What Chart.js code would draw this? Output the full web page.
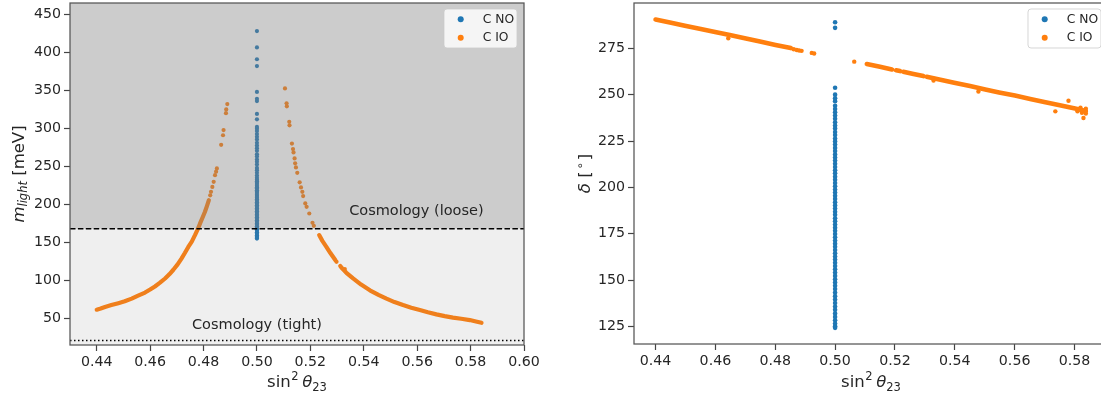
<!DOCTYPE html>
<html><head><meta charset="utf-8">
<script src="https://cdn.jsdelivr.net/npm/chart.js@4.4.1/dist/chart.umd.min.js"></script>
<style>
html,body{margin:0;padding:0;overflow:hidden;background:#fff;width:1101px;height:396px}
#wrapL{position:absolute;left:0;top:-8px;width:550px;height:404px}
#wrapR{position:absolute;left:550px;top:-8px;width:570px;height:404px}
</style></head><body>
<div id="wrapL"><canvas id="cL" width="550" height="404"></canvas></div>
<div id="wrapR"><canvas id="cR" width="570" height="404"></canvas></div>
<script>
// ---------- data ----------
const LEFT_X_TICKS = [0.44, 0.46, 0.48, 0.50, 0.52, 0.54, 0.56, 0.58, 0.60];
const LEFT_Y_TICKS = [50, 100, 150, 200, 250, 300, 350, 400, 450];
const RIGHT_X_TICKS = [0.44, 0.46, 0.48, 0.50, 0.52, 0.54, 0.56, 0.58];
const RIGHT_Y_TICKS = [125, 150, 175, 200, 225, 250, 275];
const SERIES_NAMES = ['C NO', 'C IO'];
const LOOSE_BOUND = 168;   // meV
const TIGHT_BOUND = 21;    // meV
const NO_SIN2 = 0.5;

// Left panel: C NO, m_light at sin^2 = 0.5
const noMlight = [428, 406.5, 391, 382, 348, 339, 336, 319, 312, 302, 299.5, 296.5, 292.5, 289, 285.5, 281,
  277.5, 274, 270.5, 266, 263, 259, 256, 252.5, 248, 245, 241.5, 238, 235, 232.5, 230.5, 228.4, 226.8,
  224.5, 222.7, 220.9, 218.6, 216.8, 214.9, 212.6, 210.9, 208.8, 206.9, 204.7, 202.8, 201, 198.8, 196.9,
  195, 192.8, 190.9, 189, 186.8, 185, 183.1, 181, 179.1, 177.2, 175, 173.1, 171.2, 169.1, 167.2, 165.3,
  163.2, 161.4, 159.5, 157.5, 156, 155];

// Left panel: C IO dense branches (null = gap)
const ioDenseSin2 = [0.4400, 0.4415, 0.4431, 0.4455, 0.4481, 0.4505, 0.4531, 0.4555, 0.4581, 0.4600, 0.4618,
  0.4637, 0.4656, 0.4672, 0.4687, 0.4703, 0.4718, 0.4730, 0.4743, 0.4756, 0.4768, 0.4778, 0.4787, 0.4796,
  0.4805, 0.4813, 0.4820, null,
  0.5233, 0.5245, 0.5260, 0.5275, 0.5294, null, 0.5312, 0.5319, 0.5335, 0.5360, 0.5390, 0.5423, 0.5455,
  0.5485, 0.5515, 0.5547, 0.5578, 0.5610, 0.5640, 0.5672, 0.5703, 0.5734, 0.5765, 0.5797, 0.5820, 0.5841];
const ioDenseMlight = [61.5, 63, 65, 67.5, 70, 72.5, 76, 80, 84, 88, 92,
  97, 102.5, 108, 114, 121, 129, 136, 144, 151, 159.5, 167, 175, 182.5,
  190, 198, 205.5, null,
  159.6, 152, 144.2, 136, 126.5, null, 119, 115.8, 110, 102.6, 94.5, 87, 81,
  76, 71.5, 67.5, 64, 61, 58, 55.3, 53, 51, 49.5, 47.8, 46, 44.2];
// Left panel: C IO sparse points
const ioSparseSin2 = [0.4825, 0.4828, 0.4833, 0.4838, 0.4843, 0.4847, 0.4850, 0.4866, 0.4873, 0.4875, 0.4884, 0.4885, 0.4889,
  0.5105, 0.5111, 0.5112, 0.5121, 0.5122, 0.5131, 0.5135, 0.5137, 0.5141, 0.5143, 0.5146, 0.5151, 0.5160, 0.5165,
  0.5170, 0.5173, 0.5181, 0.5186, 0.5196, 0.5208, 0.5213, 0.5298, 0.5329];
const ioSparseMlight = [212, 216.6, 223, 229.7, 238.5, 243, 247.4, 278.4, 291, 297.8, 320, 325, 332,
  352.6, 333, 329, 308.7, 304, 280, 272.8, 268.4, 260.5, 254, 248.7, 241.6, 229, 222.4,
  216.6, 211, 201.3, 196.8, 188, 175.8, 171.8, 124.5, 115];

// Right panel: C NO, delta at sin^2 = 0.5
const noDelta = [289, 286, 253.7, 250, 248, 246.5, 244, 242.2, 240.5, 238.8, 237, 235.1, 233.4, 231.8, 229.9,
  228.2, 226.4, 224.8, 223.1, 221.3, 219.6, 217.8, 216.1, 214.5, 212.7, 211, 209.2, 207.6, 205.8, 204.1,
  202.4, 200.6, 198.9, 197.2, 195.5, 193.8, 192, 190.3, 188.6, 186.9, 185.2, 183.4, 181.7, 180, 178.3,
  176.6, 174.9, 173.1, 171.4, 169.7, 168, 166.3, 164.5, 162.8, 161.1, 159.4, 157.6, 155.9, 154.1, 152.3,
  150.5, 148.8, 147, 145.2, 143.3, 141.4, 139.6, 137.7, 135.8, 134, 132.1, 130.2, 128.4, 126.6, 125.2, 124.3];
// Right panel: C IO dense band (null = gap)
const ioBandSin2 = [0.4400, 0.4452, 0.4498, 0.4551, 0.4603, 0.4648, 0.4702, 0.4749, 0.4801, 0.4852, null,
  0.5106, 0.5150, 0.5190, null, 0.5204, 0.5217, null, 0.5228, 0.5262, 0.5295, null,
  0.5306, 0.5352, 0.5398, 0.5451, 0.5502, 0.5548, 0.5601, 0.5652, 0.5699, 0.5751, 0.5802, 0.5838];
const ioBandDelta = [290.5, 288.7, 287.1, 285.4, 283.6, 282.1, 280.2, 278.6, 276.8, 275.1, null,
  266.5, 265.0, 263.6, null, 263.1, 262.7, null, 262.3, 261.1, 260.0, null,
  259.6, 258.0, 256.4, 254.6, 252.8, 251.2, 249.5, 247.7, 246.1, 244.3, 242.5, 241.2];
// Right panel: C IO isolated points
const ioDotSin2 = [0.4643, 0.4862, 0.4872, 0.4880, 0.4888, 0.4922, 0.4930, 0.5064, 0.5329, 0.5479, 0.5780,
  0.5736, 0.5830, 0.5838, 0.5825, 0.5810, 0.5838, 0.5820];
const ioDotDelta = [280.4, 274.5, 274.1, 273.8, 273.6, 272.5, 272.2, 267.8, 257.6, 251.7, 246.7,
  241.0, 237.4, 239.8, 240.2, 241.0, 242.4, 243.0];

// ---------- helpers ----------
const FONT = '"DejaVu Sans", sans-serif';
const BLUE = '#1f77b4', ORANGE = '#ff7f0e';
const TEXT = '#262626', SPINE = '#555555';
const zip = (xs, ys) => xs.map((x, i) => ({x: x, y: ys[i]}));
const constX = (x, ys) => ys.map(y => ({x: x, y: y}));

function scales(xmin, xmax, xticks, ymin, ymax, yticks, yWidth, xHeight) {
  const grid = {display: true, drawOnChartArea: false, drawTicks: true, tickLength: 6, tickWidth: 1.2, tickColor: '#444'};
  const font = {family: FONT, size: 14.2, lineHeight: '16px'};
  return {
    x: {type: 'linear', min: xmin, max: xmax,
      afterBuildTicks: s => { s.ticks = xticks.map(v => ({value: v})); },
      afterFit: s => { s.height = xHeight; },
      grid: grid, border: {display: false},
      ticks: {font: font, color: TEXT, padding: 3, maxRotation: 0, autoSkip: false,
        callback: v => Number(v).toFixed(2)}},
    y: {type: 'linear', min: ymin, max: ymax,
      afterBuildTicks: s => { s.ticks = yticks.map(v => ({value: v})); },
      afterFit: s => { s.width = yWidth; },
      grid: grid, border: {display: false},
      ticks: {font: font, color: TEXT, padding: 3, autoSkip: false,
        callback: v => String(v)}}
  };
}

function mathText(ctx, parts, x, y, rot) {
  let total = 0;
  const ws = parts.map(p => {
    ctx.font = (p.it ? 'italic ' : '') + p.s + 'px ' + FONT;
    const w = ctx.measureText(p.t).width + (p.pad || 0);
    total += w; return w;
  });
  ctx.save();
  ctx.translate(x, y); ctx.rotate(rot);
  ctx.fillStyle = TEXT; ctx.textBaseline = 'alphabetic'; ctx.textAlign = 'left';
  let cx = -total / 2;
  parts.forEach((p, i) => {
    ctx.font = (p.it ? 'italic ' : '') + p.s + 'px ' + FONT;
    ctx.fillText(p.t, cx + (p.pad || 0) / 2, p.dy || 0);
    cx += ws[i];
  });
  ctx.restore();
}

function frame(ctx, a) {
  ctx.save();
  ctx.strokeStyle = SPINE; ctx.lineWidth = 1.25;
  ctx.strokeRect(a.left, a.top, a.right - a.left, a.bottom - a.top);
  ctx.restore();
}

function legend(ctx, a) {
  const bx = a.right - 80, by = a.top + 6, bw = 73, bh = 39;
  ctx.save();
  ctx.beginPath();
  ctx.roundRect(bx, by, bw, bh, 3);
  ctx.fillStyle = 'rgba(255,255,255,0.8)'; ctx.fill();
  ctx.strokeStyle = 'rgba(204,204,204,0.8)'; ctx.lineWidth = 1; ctx.stroke();
  const cols = [BLUE, ORANGE];
  ctx.font = '12.3px ' + FONT; ctx.textBaseline = 'middle'; ctx.textAlign = 'left';
  SERIES_NAMES.forEach((n, i) => {
    const cy = by + 10.3 + i * 18.4;
    ctx.beginPath(); ctx.arc(bx + 16.7, cy, 3, 0, Math.PI * 2); ctx.fillStyle = cols[i]; ctx.fill();
    ctx.fillStyle = TEXT; ctx.fillText(n, bx + 38.7, cy + 0.5);
  });
  ctx.restore();
}

const xTitleParts = [{t: 'sin', s: 16.5}, {t: '2', s: 11.5, dy: -7, pad: 1}, {t: ' ', s: 10},
  {t: 'θ', s: 16.5, it: true}, {t: '23', s: 11.5, dy: 3.5}];

// ---------- left chart ----------
const leftPlugin = {
  id: 'leftDecor',
  afterDatasetsDraw(chart) {
    const {ctx, chartArea: a, scales: {x, y}} = chart;
    const yl = y.getPixelForValue(LOOSE_BOUND), yt = y.getPixelForValue(TIGHT_BOUND);
    ctx.save();
    ctx.fillStyle = 'rgba(128,128,128,0.4)';
    ctx.fillRect(a.left, a.top, a.right - a.left, yl - a.top);
    ctx.fillStyle = 'rgba(128,128,128,0.125)';
    ctx.fillRect(a.left, yl, a.right - a.left, a.bottom - yl);
    ctx.strokeStyle = '#000'; ctx.lineWidth = 1.5;
    ctx.setLineDash([5.5, 2.4]);
    ctx.beginPath(); ctx.moveTo(a.left, yl); ctx.lineTo(a.right, yl); ctx.stroke();
    ctx.setLineDash([1.5, 2.5]);
    ctx.beginPath(); ctx.moveTo(a.left, yt); ctx.lineTo(a.right, yt); ctx.stroke();
    ctx.setLineDash([]);
    ctx.fillStyle = TEXT; ctx.font = '14.5px ' + FONT; ctx.textAlign = 'center'; ctx.textBaseline = 'alphabetic';
    ctx.fillText('Cosmology (loose)', x.getPixelForValue(0.5597), y.getPixelForValue(186));
    ctx.fillText('Cosmology (tight)', x.getPixelForValue(0.50), y.getPixelForValue(35.4));
    ctx.restore();
  },
  afterDraw(chart) {
    const {ctx, chartArea: a} = chart;
    frame(ctx, a);
    legend(ctx, a);
    mathText(ctx, xTitleParts, (a.left + a.right) / 2, a.bottom + 42, 0);
    mathText(ctx, [{t: 'm', s: 16.5, it: true}, {t: 'light', s: 11.5, it: true, dy: 3.5},
      {t: ' [meV]', s: 16.5}], 23.5, (a.top + a.bottom) / 2, -Math.PI / 2);
  }
};

new Chart(document.getElementById('cL'), {
  type: 'scatter',
  data: {datasets: [
    {label: 'C IO band', data: zip(ioDenseSin2, ioDenseMlight), showLine: true, spanGaps: false,
      borderColor: ORANGE, borderWidth: 4.2, borderCapStyle: 'round', borderJoinStyle: 'round',
      pointRadius: 0, pointHoverRadius: 0, fill: false, tension: 0},
    {label: SERIES_NAMES[1], data: zip(ioSparseSin2, ioSparseMlight), backgroundColor: ORANGE,
      pointRadius: 2.1, pointBorderWidth: 0, pointHoverRadius: 2.1},
    {label: SERIES_NAMES[0], data: constX(NO_SIN2, noMlight), backgroundColor: BLUE,
      pointRadius: 2.1, pointBorderWidth: 0, pointHoverRadius: 2.1}
  ]},
  options: {
    responsive: false, animation: false, devicePixelRatio: 1,
    layout: {padding: {top: 0, right: 26, left: 0, bottom: 0}},
    plugins: {legend: {display: false}, tooltip: {enabled: false}},
    scales: scales(0.43, 0.60, LEFT_X_TICKS, 15, 465, LEFT_Y_TICKS, 70, 51)
  },
  plugins: [leftPlugin]
});

// ---------- right chart ----------
const rightPlugin = {
  id: 'rightDecor',
  afterDraw(chart) {
    const {ctx, chartArea: a} = chart;
    frame(ctx, a);
    legend(ctx, a);
    mathText(ctx, xTitleParts, (a.left + a.right) / 2, a.bottom + 43, 0);
    mathText(ctx, [{t: 'δ', s: 16.5, it: true}, {t: ' [', s: 16.5}, {t: '∘', s: 11.5, dy: -6.5, pad: 4},
      {t: ']', s: 16.5}], 40, (a.top + a.bottom) / 2, -Math.PI / 2);
  }
};

new Chart(document.getElementById('cR'), {
  type: 'scatter',
  data: {datasets: [
    {label: 'C IO band', data: zip(ioBandSin2, ioBandDelta), showLine: true, spanGaps: false,
      borderColor: ORANGE, borderWidth: 4.6, borderCapStyle: 'round', borderJoinStyle: 'round',
      pointRadius: 0, pointHoverRadius: 0, fill: false, tension: 0},
    {label: SERIES_NAMES[1], data: zip(ioDotSin2, ioDotDelta), backgroundColor: ORANGE,
      pointRadius: 2.2, pointBorderWidth: 0, pointHoverRadius: 2.2},
    {label: SERIES_NAMES[0], data: constX(NO_SIN2, noDelta), backgroundColor: BLUE,
      pointRadius: 2.3, pointBorderWidth: 0, pointHoverRadius: 2.3}
  ]},
  options: {
    responsive: false, animation: false, devicePixelRatio: 1,
    layout: {padding: {top: 0, right: 12, left: 0, bottom: 0}},
    plugins: {legend: {display: false}, tooltip: {enabled: false}},
    scales: scales(0.4328, 0.5912, RIGHT_X_TICKS, 115.6, 299.4, RIGHT_Y_TICKS, 84, 52)
  },
  plugins: [rightPlugin]
});
</script>
</body></html>
